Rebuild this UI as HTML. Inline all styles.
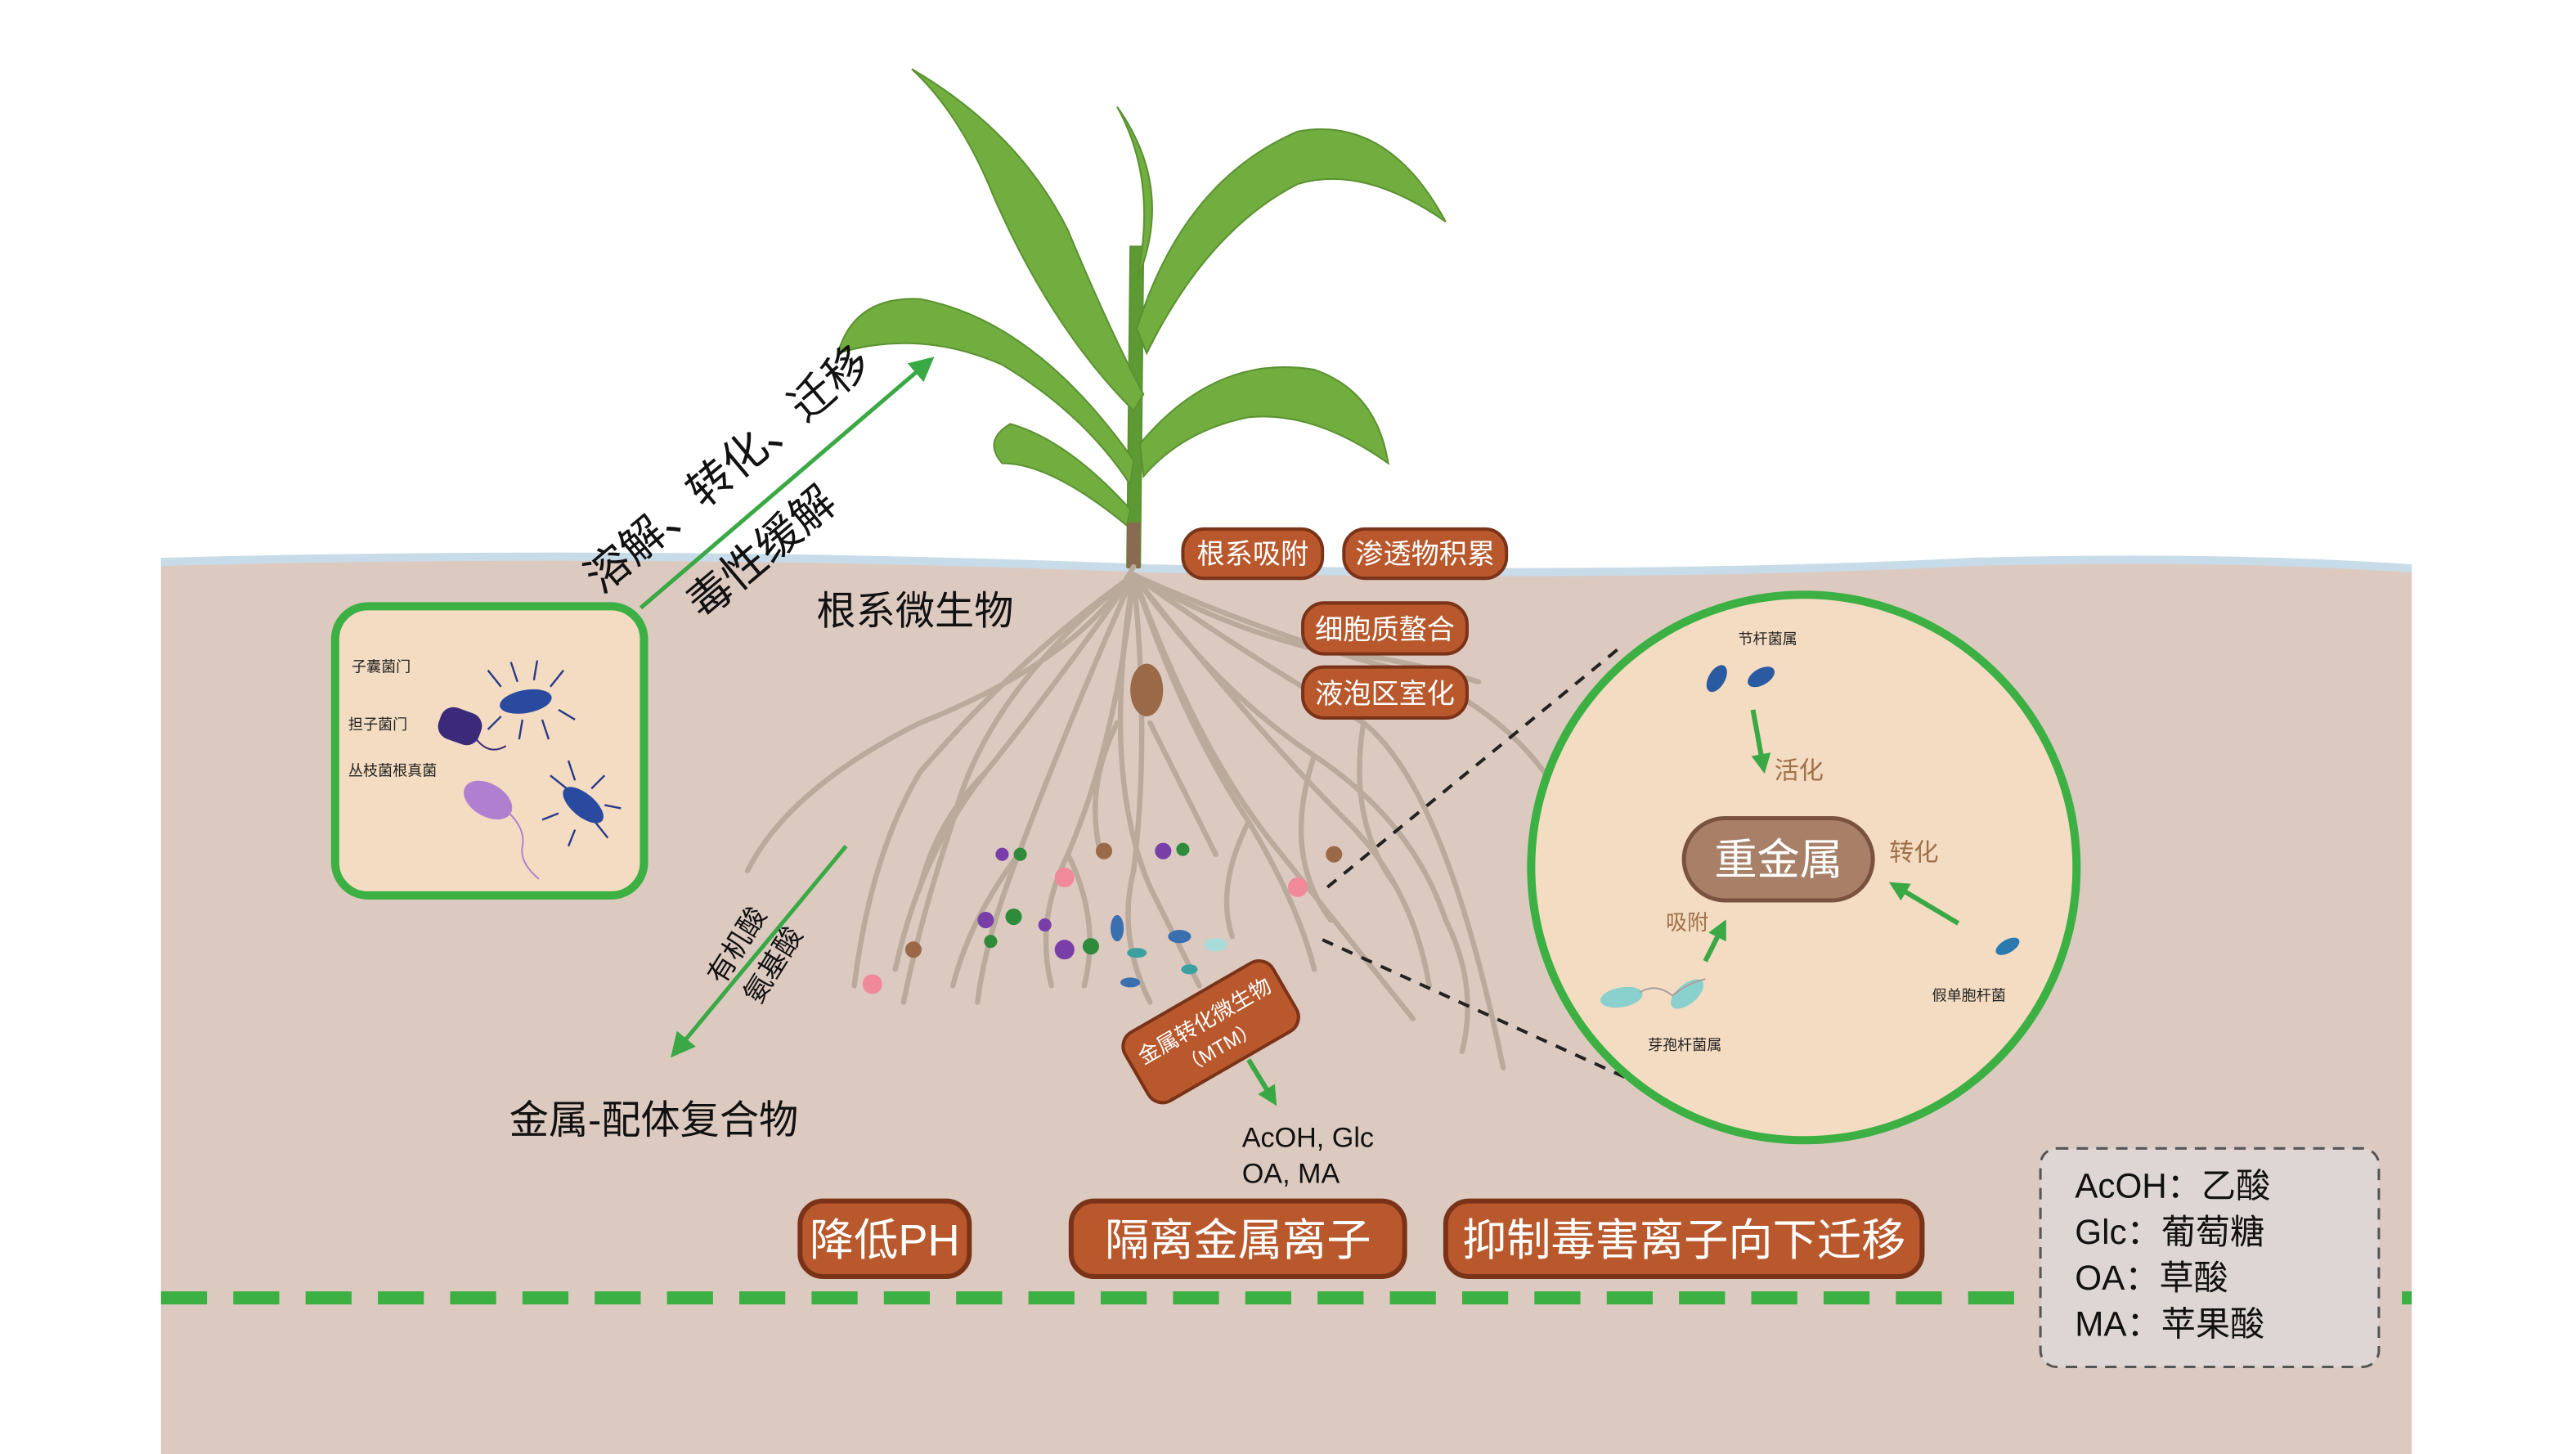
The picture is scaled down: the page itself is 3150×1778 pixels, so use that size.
<!DOCTYPE html>
<html><head><meta charset="utf-8"><style>
html,body{margin:0;padding:0;background:#fff}
svg{display:block}
text{font-family:"Liberation Sans","Noto Sans CJK SC",sans-serif}
</style></head><body>
<svg width="3150" height="1778" viewBox="0 0 1568 885" preserveAspectRatio="none" xmlns="http://www.w3.org/2000/svg">
<defs>
<marker id="ah" markerWidth="6" markerHeight="6" refX="3" refY="3" orient="auto" markerUnits="strokeWidth"><path d="M0,0 L6,3 L0,6 z" fill="#3aa845"/></marker>
<marker id="ah2" markerWidth="4" markerHeight="4" refX="2" refY="2" orient="auto" markerUnits="strokeWidth"><path d="M0,0 L4,2 L0,4 z" fill="#3aa845"/></marker>
</defs>
<rect width="1568" height="885" fill="#fff"/>
<path d="M98,342 Q400,334 700,346 Q1000,352 1200,342 Q1350,338 1468,346 L1468,885 L98,885 Z" fill="#dccac1"/>
<path d="M98,342 Q400,334 700,346 Q1000,352 1200,342 Q1350,338 1468,346" fill="none" stroke="#c8dbe8" stroke-width="5"/>
<line x1="98" y1="790" x2="1468" y2="790" stroke="#3cb043" stroke-width="8" stroke-dasharray="28,16"/>
<g fill="#72ad40" stroke="#5a9230" stroke-width="1">
<path d="M686,345 L694,345 L696,150 L688,150 Z" fill="#5e9a34"/>
<path d="M690,250 Q640,200 605,120 Q585,70 555,42 Q620,80 650,140 Q675,200 696,240 Z"/>
<path d="M692,200 Q720,110 790,80 Q845,70 880,135 Q830,100 790,112 Q735,140 698,215 Z"/>
<path d="M690,280 Q630,195 560,182 Q520,180 510,215 Q560,200 610,222 Q660,252 688,295 Z"/>
<path d="M694,270 Q740,215 800,225 Q838,238 845,282 Q800,250 760,254 Q720,262 696,290 Z"/>
<path d="M688,310 Q650,268 615,258 Q598,268 610,282 Q640,282 686,320 Z"/>
<path d="M692,170 Q705,110 680,65 Q712,110 696,160 Z"/>
</g>
<rect x="686" y="318" width="8" height="28" fill="#8a6a50"/>
<g fill="none" stroke="#b9aa9c" stroke-width="3.2" stroke-linecap="round">
<path d="M690,345 Q660,400 560,440 Q480,480 455,530"/>
<path d="M690,350 Q640,420 600,470 Q560,520 545,590"/>
<path d="M690,350 Q650,440 620,520 Q600,570 595,610"/>
<path d="M690,350 Q680,450 650,520 Q630,560 640,600"/>
<path d="M690,350 Q700,450 690,530 Q680,570 700,610"/>
<path d="M690,350 Q720,440 760,500 Q790,550 800,590"/>
<path d="M690,350 Q740,420 800,460 Q860,500 880,560"/>
<path d="M690,350 Q760,400 830,440 Q880,480 915,650"/>
<path d="M690,350 Q780,390 860,410 Q910,430 940,470"/>
<path d="M690,350 Q740,380 800,395 Q850,400 900,415"/>
<path d="M690,350 Q620,400 560,470 Q530,520 520,600"/>
<path d="M690,350 Q670,470 700,540 Q720,580 730,600"/>
<path d="M690,350 Q600,420 580,500 Q560,560 550,610"/>
<path d="M690,350 Q730,460 780,520 Q820,570 860,620"/>
<path d="M690,350 Q760,440 820,500 Q860,540 870,600"/>
<path d="M600,470 Q570,500 560,540"/>
<path d="M760,500 Q740,540 750,570"/>
<path d="M830,440 Q820,500 850,540"/>
<path d="M650,520 Q670,560 660,600"/>
<path d="M620,520 Q590,560 580,600"/>
<path d="M880,560 Q900,600 890,640"/>
<path d="M800,460 Q780,520 810,560"/>
<path d="M700,440 Q720,480 740,520"/>
<path d="M680,440 Q660,480 670,520"/>
</g>
<ellipse cx="698" cy="420" rx="10" ry="16" fill="#9a6a48"/>
<g>
<circle cx="621" cy="520" r="4" fill="#2e8b3c"/><circle cx="610" cy="520" r="4" fill="#7a3ea8"/>
<circle cx="672" cy="518" r="5" fill="#9a6a48"/><circle cx="708" cy="518" r="5" fill="#7a3ea8"/><circle cx="720" cy="517" r="4" fill="#2e8b3c"/>
<circle cx="648" cy="534" r="6" fill="#f08a9a"/><circle cx="790" cy="540" r="6" fill="#f08a9a"/><circle cx="812" cy="520" r="5" fill="#9a6a48"/>
<circle cx="600" cy="560" r="5" fill="#7a3ea8"/><circle cx="617" cy="558" r="5" fill="#2e8b3c"/><circle cx="636" cy="563" r="4" fill="#7a3ea8"/><circle cx="648" cy="578" r="6" fill="#7a3ea8"/><circle cx="664" cy="576" r="5" fill="#2e8b3c"/><circle cx="603" cy="573" r="4" fill="#2e8b3c"/>
<circle cx="556" cy="578" r="5" fill="#9a6a48"/><circle cx="531" cy="599" r="6" fill="#f08a9a"/>
<ellipse cx="680" cy="565" rx="4" ry="8" fill="#3a6fb0"/><ellipse cx="718" cy="570" rx="7" ry="4" fill="#3a6fb0"/><ellipse cx="692" cy="580" rx="6" ry="3" fill="#3aa0a0"/><ellipse cx="724" cy="590" rx="5" ry="3" fill="#3aa0a0"/><ellipse cx="688" cy="598" rx="6" ry="3" fill="#3a6fb0"/><ellipse cx="740" cy="575" rx="7" ry="4" fill="#a8dcd8"/>
</g>
<line x1="390" y1="370" x2="563" y2="222" stroke="#3aa845" stroke-width="2.5" marker-end="url(#ah)"/>
<text transform="translate(366,362) rotate(-40)" font-size="27" fill="#111">溶解、转化、迁移</text>
<text transform="translate(428,378) rotate(-40)" font-size="27" fill="#111">毒性缓解</text>
<text x="497" y="380" font-size="24" fill="#111">根系微生物</text>
<rect x="204" y="369" width="188" height="176" rx="20" fill="#f4dcc2" stroke="#3cb043" stroke-width="5"/>
<text x="214" y="409" font-size="9" fill="#222">子囊菌门</text>
<text x="212" y="444" font-size="9" fill="#222">担子菌门</text>
<text x="212" y="472" font-size="9" fill="#222">丛枝菌根真菌</text>
<rect x="267" y="432" width="26" height="20" rx="8" fill="#3b2a7a" transform="rotate(20 280 442)"/>
<path d="M290,450 q8,10 18,4" stroke="#3b2a7a" fill="none"/>
<ellipse cx="297" cy="487" rx="16" ry="10" fill="#b080d0" transform="rotate(30 297 487)"/>
<path d="M310,495 q10,10 8,20 q-2,10 10,20" stroke="#b080d0" fill="none"/>
<g stroke="#2a3a8a" stroke-width="1.2" fill="none">
<path d="M305,418 l-8,-10 M315,415 l-4,-12 M325,414 l2,-12 M335,418 l8,-10 M305,436 l-8,8 M318,438 l-2,12 M330,438 l4,12 M340,432 l10,6"/>
<path d="M345,480 l-10,-8 M350,475 l-4,-12 M360,480 l8,-8 M340,495 l-10,4 M350,505 l-4,10 M362,500 l8,10 M368,490 l10,2"/>
</g>
<ellipse cx="320" cy="427" rx="16" ry="7" fill="#2a4aa0" transform="rotate(-10 320 427)"/>
<ellipse cx="355" cy="490" rx="15" ry="7" fill="#2a4aa0" transform="rotate(40 355 490)"/>
<g font-size="17" fill="#fff">
<rect x="720" y="322" width="85" height="30" rx="13" fill="#b8582c" stroke="#7a3318" stroke-width="2"/><text x="762.5" y="343" text-anchor="middle">根系吸附</text>
<rect x="818" y="322" width="99" height="30" rx="13" fill="#b8582c" stroke="#7a3318" stroke-width="2"/><text x="867.5" y="343" text-anchor="middle">渗透物积累</text>
<rect x="793" y="367" width="100" height="31" rx="13" fill="#b8582c" stroke="#7a3318" stroke-width="2"/><text x="843" y="389" text-anchor="middle">细胞质螯合</text>
<rect x="793" y="406" width="100" height="31" rx="13" fill="#b8582c" stroke="#7a3318" stroke-width="2"/><text x="843" y="428" text-anchor="middle">液泡区室化</text>
</g>
<line x1="515" y1="515" x2="413" y2="638" stroke="#3aa845" stroke-width="2.5" marker-end="url(#ah)"/>
<text transform="translate(440,600) rotate(-58)" font-size="17" fill="#111">有机酸</text>
<text transform="translate(462,612) rotate(-58)" font-size="17" fill="#111">氨基酸</text>
<text x="310" y="690" font-size="24" fill="#111">金属-配体复合物</text>
<g transform="translate(737,628) rotate(-30)">
<rect x="-52" y="-24" width="104" height="48" rx="10" fill="#b8582c" stroke="#7a3318" stroke-width="2"/>
<text x="0" y="-3" font-size="13" fill="#fff" text-anchor="middle">金属转化微生物</text>
<text x="0" y="15" font-size="12" fill="#fff" text-anchor="middle">（MTM）</text>
</g>
<line x1="760" y1="645" x2="774" y2="668" stroke="#3aa845" stroke-width="3" marker-end="url(#ah2)"/>
<text x="756" y="698" font-size="17" fill="#111">AcOH, Glc</text>
<text x="756" y="720" font-size="17" fill="#111">OA, MA</text>
<g font-size="27" fill="#fff">
<rect x="487" y="731" width="103" height="46" rx="14" fill="#b8582c" stroke="#7a3318" stroke-width="3"/><text x="538.5" y="764" text-anchor="middle">降低PH</text>
<rect x="652" y="731" width="203" height="46" rx="14" fill="#b8582c" stroke="#7a3318" stroke-width="3"/><text x="753.5" y="764" text-anchor="middle">隔离金属离子</text>
<rect x="880" y="731" width="290" height="46" rx="14" fill="#b8582c" stroke="#7a3318" stroke-width="3"/><text x="1025" y="764" text-anchor="middle">抑制毒害离子向下迁移</text>
</g>
<line x1="808" y1="540" x2="985" y2="395" stroke="#222" stroke-width="2" stroke-dasharray="7,6"/>
<line x1="805" y1="572" x2="1025" y2="672" stroke="#222" stroke-width="2" stroke-dasharray="7,6"/>
<circle cx="1098" cy="528" r="166" fill="#f4dcc2" stroke="#3cb043" stroke-width="5"/>
<rect x="1025" y="498" width="115" height="50" rx="25" fill="#a88068" stroke="#7a5240" stroke-width="2.5"/>
<text x="1082.5" y="532" font-size="26" fill="#fff" text-anchor="middle">重金属</text>
<text x="1058" y="392" font-size="9" fill="#222">节杆菌属</text>
<ellipse cx="1045" cy="413" rx="5" ry="9" fill="#2a5aa0" transform="rotate(30 1045 413)"/>
<ellipse cx="1072" cy="412" rx="5" ry="9" fill="#2a5aa0" transform="rotate(60 1072 412)"/>
<line x1="1067" y1="432" x2="1073" y2="465" stroke="#3aa845" stroke-width="3" marker-end="url(#ah2)"/>
<text x="1080" y="474" font-size="15" fill="#a0704a">活化</text>
<text x="1150" y="524" font-size="15" fill="#a0704a">转化</text>
<line x1="1192" y1="562" x2="1155" y2="540" stroke="#3aa845" stroke-width="3" marker-end="url(#ah2)"/>
<text x="1014" y="566" font-size="13" fill="#a0704a">吸附</text>
<line x1="1038" y1="585" x2="1048" y2="565" stroke="#3aa845" stroke-width="3" marker-end="url(#ah2)"/>
<ellipse cx="1222" cy="576" rx="8" ry="4" fill="#2a7ab0" transform="rotate(-30 1222 576)"/>
<text x="1176" y="609" font-size="9" fill="#222">假单胞杆菌</text>
<ellipse cx="987" cy="607" rx="13" ry="6" fill="#8ad0cc" transform="rotate(-10 987 607)"/>
<ellipse cx="1027" cy="605" rx="12" ry="6" fill="#8ad0cc" transform="rotate(-40 1027 605)"/>
<path d="M998,604 q10,-6 20,2 q10,-8 20,-10" stroke="#a8a0a0" fill="none"/>
<text x="1003" y="639" font-size="9" fill="#222">芽孢杆菌属</text>
<rect x="1242" y="699" width="206" height="133" rx="10" fill="#ddd6d4" stroke="#555" stroke-width="1.5" stroke-dasharray="7,5"/>
<g font-size="21" fill="#111">
<text x="1263" y="729">AcOH：乙酸</text>
<text x="1263" y="757">Glc：葡萄糖</text>
<text x="1263" y="785">OA：草酸</text>
<text x="1263" y="813">MA：苹果酸</text>
</g>
</svg>
</body></html>
